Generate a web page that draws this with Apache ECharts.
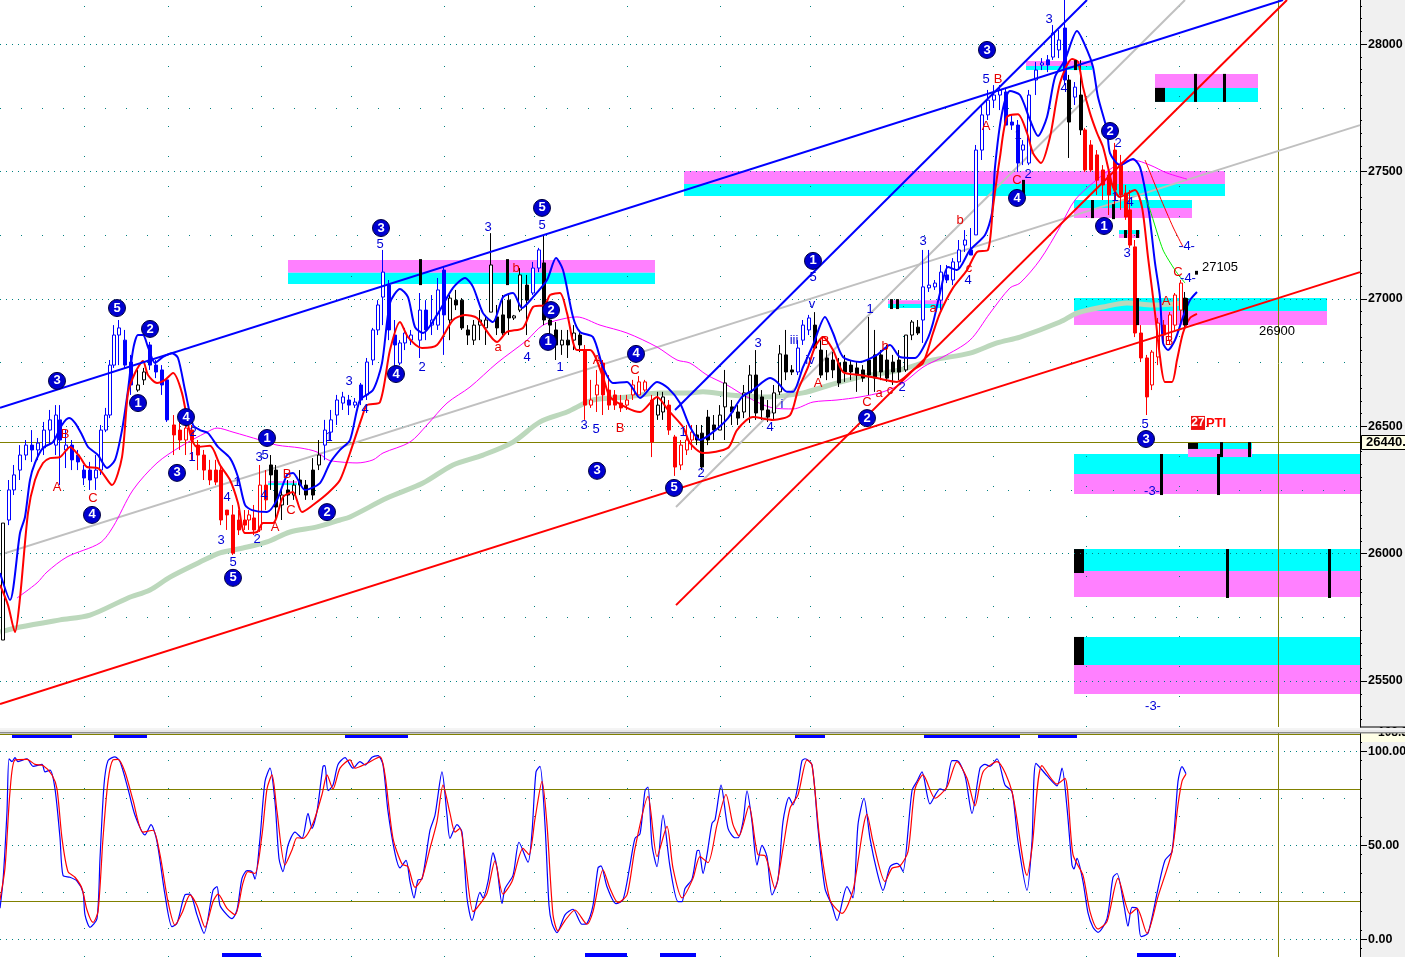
<!DOCTYPE html>
<html><head><meta charset="utf-8">
<style>html,body{margin:0;padding:0;background:#fff;overflow:hidden}#c{width:1405px;height:957px}</style>
<script src="https://cdn.jsdelivr.net/npm/echarts@6/dist/echarts.min.js"></script></head>
<body><div id="c"></div>
<script>
// ---------- price tick labels ----------
const priceTicks=[25500,26000,26500,27000,27500,28000];
const priceMinorRows=[25750,26250,26750,27250,27750];
const oscTicks=[0,50,100];
const oscMinorRows=[25,75];
const oscBands=[20,80];
const lastPrice=26437;
const timeGrid=[84,168,261,351,444,534,627,720,810,903,993,1086,1179];
const cursorTime=1278.5;

// ---------- candles: [time, open, close, low, high] ----------
const barsBlack=[[3,25661,26120,25661,26120],[138,26642,26662,26635,26721],[144,26682,26713,26662,26729],
[271,26348,26309,26250,26387],[276,26328,26183,26132,26348],[282,26191,26230,26132,26250],[288,26250,26230,26191,26289],[294,26230,26269,26211,26289],[300,26289,26269,26230,26328],[306,26269,26230,26211,26289],[313,26328,26230,26211,26375],[319,26348,26387,26328,26446],
[450,26917,27003,26838,27015],[456,26995,26976,26956,27035],[462,26995,26886,26878,27003],[468,26878,26858,26819,26897],[474,26838,26897,26819,26917],[480,26897,26917,26838,26956],[486,26886,26917,26819,26937],[491,26948,27133,26948,27258],[497,26929,26886,26858,26976],[503,26937,26866,26858,27015],[509,26995,26925,26858,27015],[514,26925,26933,26917,26937],[520,26956,27094,26948,27121],[527,27054,26995,26858,27094],
[544,27141,26917,26897,27251],[550,26917,26897,26838,26976],[556,26878,26819,26760,26909],[562,26819,26838,26780,26878],[568,26838,26819,26768,26878],[574,26838,26866,26799,26897],[580,26858,26819,26791,26878],
[658,26544,26583,26525,26635],[663,26556,26615,26525,26635],
[697,26466,26446,26426,26505],[702,26473,26340,26328,26505],[708,26536,26446,26426,26564],[714,26505,26485,26446,26544],[720,26485,26544,26485,26583],[725,26576,26670,26446,26721],[732,26576,26556,26505,26603],[738,26556,26532,26505,26583],[744,26556,26631,26532,26662],[750,26631,26701,26513,26740],[756,26701,26552,26525,26799],[762,26615,26564,26525,26642],[768,26564,26536,26517,26603],[774,26552,26631,26525,26662],[780,26635,26784,26623,26819],[786,26780,26713,26681,26878],[792,26721,26713,26701,26740],
[815,26897,26807,26799,26948],[821,26799,26701,26689,26838],[827,26768,26713,26681,26799],[833,26760,26721,26689,26791],[839,26748,26670,26654,26768],[845,26752,26713,26674,26780],[851,26740,26713,26681,26760],[857,26729,26701,26635,26752],[863,26721,26689,26674,26740],[869,26760,26701,26623,26929],[875,26780,26689,26635,26878],[881,26780,26713,26681,26799],[887,26760,26689,26674,26819],[893,26752,26713,26662,26780],[899,26760,26713,26681,26799],[906,26721,26858,26713,26858],[912,26858,26909,26838,26917],[918,26889,26866,26858,26917],
[1069,27859,27694,27553,27879],[1081,27800,27663,27643,27937],[1185,27003,26897,26886,27027]];
const barsBlue=[[9,26132,26250,26112,26289],[14,26250,26309,26230,26348],[20,26328,26387,26289,26426],[26,26387,26426,26367,26446],[32,26426,26407,26360,26485],[38,26407,26434,26367,26454],[44,26415,26485,26387,26517],[50,26485,26525,26426,26564],[56,26426,26544,26387,26583],[60,26525,26446,26269,26583],[66,26407,26426,26336,26485],[72,26426,26368,26328,26446],[78,26387,26360,26328,26407],[84,26328,26297,26269,26348],[90,26328,26289,26250,26360],[96,26297,26328,26250,26387],[101,26328,26485,26309,26505],[106,26485,26544,26477,26572],[110,26544,26740,26532,26760],[114,26740,26858,26729,26897],[119,26858,26886,26740,26917],[125,26838,26740,26729,26878],[131,26752,26662,26623,26780],
[150,26819,26740,26721,26831],[156,26740,26713,26689,26760],[162,26721,26662,26623,26740],[167,26682,26525,26517,26689],
[325,26426,26485,26367,26525],[331,26477,26525,26446,26564],[337,26544,26603,26505,26623],[343,26591,26615,26564,26635],[349,26603,26583,26544,26623],[355,26583,26595,26572,26611],[361,26662,26603,26583,26670],[367,26623,26752,26603,26768],[373,26760,26878,26740,26886],[378,26878,26976,26858,26995],[383,27007,27105,26897,27192],[389,27054,26878,26838,27074],[395,26858,26819,26721,26917],[400,26748,26827,26740,26838],[405,26827,26866,26799,26886],[411,26838,26858,26819,26878],[420,26838,26956,26768,27023],[426,26956,26878,26838,26995],[432,26897,26917,26858,27015],[438,26897,27035,26878,27082],[444,27113,26937,26780,27129],
[533,27023,27121,27015,27145],[539,27121,27192,27105,27200],
[798,26713,26807,26701,26838],[803,26838,26897,26819,26917],[809,26878,26925,26858,26937],
[923,26917,27047,26827,27192],[929,27043,27054,27027,27192],[935,27047,27062,27035,27074],[941,26995,27105,26956,27133],[947,27094,27074,27062,27133],[953,27074,27145,27054,27160],[959,27145,27192,27121,27231],[965,27211,27231,27184,27270],[971,27192,27172,27172,27278],[976,27251,27584,27251,27604],[982,27584,27722,27545,27761],[988,27722,27780,27702,27820],[994,27780,27800,27749,27839],[1000,27800,27820,27741,27839],[1006,27812,27682,27682,27828],[1012,27694,27682,27663,27722],[1018,27682,27533,27498,27702],[1023,27584,27604,27525,27623],[1029,27533,27800,27525,27820],[1036,27859,27898,27800,27930],[1042,27918,27926,27898,27945],[1048,27938,27918,27890,27957],[1053,27949,28043,27938,28075],[1059,27977,28016,27945,28055],[1065,28063,27859,27839,28173],[1075,27792,27831,27761,27851]];
const barsRed=[[174,26505,26466,26387,26544],[180,26485,26446,26407,26525],[186,26446,26493,26387,26525],[192,26485,26446,26368,26505],[198,26426,26387,26328,26446],[204,26387,26328,26289,26407],[210,26328,26289,26269,26368],[216,26328,26281,26269,26368],[221,26328,26132,26112,26348],[227,26171,26152,26093,26171],[233,26152,26002,25995,26191],[239,26132,26093,26073,26171],[245,26132,26112,26093,26171],[249,26132,26152,26093,26171],[254,26140,26093,26073,26191],[260,26093,26269,26085,26348],[266,26269,26211,26171,26328],
[585,26799,26583,26525,26819],[591,26583,26603,26572,26682],[597,26623,26662,26556,26721],[603,26748,26623,26544,26760],[609,26642,26583,26564,26701],[615,26623,26583,26564,26642],[621,26591,26572,26556,26623],[627,26583,26603,26564,26623],[633,26623,26662,26603,26682],[639,26623,26674,26623,26697],[645,26642,26674,26635,26682],[652,26603,26438,26379,26623],
[669,26583,26485,26466,26603],[675,26458,26340,26305,26466],[681,26348,26426,26328,26446],[687,26407,26446,26387,26505],[692,26446,26477,26407,26505],
[1085,27663,27506,27498,27671],[1091,27604,27506,27498,27623],[1097,27565,27466,27408,27584],[1103,27506,27447,27388,27525],[1109,27486,27408,27329,27506],[1115,27584,27427,27368,27612],[1121,27525,27408,27349,27565],[1126,27415,27321,27310,27447],[1130,27349,27211,27200,27427],[1135,27204,26866,26850,27231],[1141,26866,26768,26752,26897],[1147,26768,26615,26544,26780],[1152,26662,26791,26642,26799],[1158,26772,26905,26740,26925],[1164,26897,26858,26819,26917],[1170,26838,26937,26819,26948],[1175,26897,27015,26878,27023],[1181,26956,27062,26897,27074]];

// ---------- moving bands: [time, price] ----------
const bandUpper=[[0,25924],[10,25818],[20,26081],[25,26144],[30,26289],[35,26356],[43,26415],[53,26438],[62,26505],[69,26532],[75,26513],[82,26466],[88,26419],[98,26387],[107,26336],[115,26368],[122,26485],[128,26642],[133,26799],[138,26858],[143,26858],[148,26811],[155,26748],[163,26772],[172,26787],[178,26768],[185,26642],[193,26505],[200,26485],[208,26473],[218,26419],[230,26375],[238,26301],[245,26191],[252,26171],[267,26163],[277,26211],[287,26309],[293,26317],[305,26250],[320,26277],[330,26356],[340,26407],[350,26446],[360,26603],[373,26642],[382,26748],[390,26984],[400,27039],[408,27007],[415,26889],[423,26866],[437,26937],[453,27043],[465,27082],[473,27047],[483,26944],[493,26909],[503,27007],[513,27023],[522,26964],[533,27007],[547,27074],[556,27160],[563,27113],[573,26929],[580,26870],[593,26850],[603,26732],[613,26670],[627,26674],[640,26611],[657,26674],[668,26650],[680,26591],[690,26497],[700,26446],[713,26477],[728,26532],[742,26615],[753,26642],[770,26689],[777,26674],[787,26635],[793,26635],[803,26732],[813,26819],[825,26929],[833,26866],[843,26772],[860,26752],[877,26780],[890,26819],[900,26772],[915,26768],[927,26838],[933,26905],[940,27023],[948,27125],[957,27113],[970,27192],[985,27251],[992,27337],[995,27517],[1002,27729],[1010,27816],[1020,27800],[1030,27702],[1038,27639],[1047,27714],[1055,27871],[1065,27938],[1077,28051],[1087,27977],[1093,27910],[1098,27792],[1107,27663],[1110,27572],[1120,27525],[1133,27549],[1140,27517],[1147,27388],[1150,27310],[1155,27141],[1160,27007],[1163,26827],[1168,26799],[1175,26838],[1183,26929],[1190,26995],[1197,27027]];
const bandLower=[[0,25877],[8,25798],[15,25692],[20,25826],[28,26160],[35,26289],[43,26356],[50,26375],[60,26379],[70,26419],[80,26379],[87,26340],[98,26336],[112,26269],[122,26379],[128,26630],[135,26709],[143,26756],[148,26701],[157,26670],[165,26682],[173,26709],[182,26630],[190,26473],[197,26419],[210,26423],[220,26348],[230,26289],[238,26199],[245,26081],[257,26085],[263,26120],[273,26120],[283,26222],[293,26242],[302,26163],[313,26191],[328,26238],[340,26289],[350,26395],[362,26536],[367,26583],[380,26595],[390,26799],[400,26909],[408,26850],[422,26807],[437,26819],[453,26917],[465,26937],[477,26925],[497,26831],[507,26870],[523,26886],[533,26968],[545,26976],[550,27015],[560,27023],[567,26944],[577,26799],[590,26799],[603,26693],[610,26615],[627,26572],[640,26556],[657,26615],[668,26564],[683,26497],[690,26434],[703,26395],[728,26415],[737,26485],[753,26536],[773,26525],[790,26544],[798,26642],[808,26732],[815,26811],[823,26850],[833,26799],[843,26713],[860,26701],[877,26689],[897,26674],[913,26721],[923,26748],[933,26866],[940,26944],[953,27043],[967,27113],[977,27184],[988,27192],[993,27360],[1000,27557],[1007,27714],[1018,27725],[1027,27651],[1033,27572],[1041,27533],[1050,27635],[1060,27847],[1072,27941],[1078,27930],[1083,27831],[1090,27729],[1097,27651],[1103,27596],[1108,27517],[1113,27439],[1120,27400],[1135,27427],[1142,27360],[1148,27164],[1155,26944],[1160,26772],[1165,26674],[1172,26674],[1177,26760],[1183,26866],[1190,26925],[1197,26941]];
const maMagenta=[[17,25826],[37,25885],[47,25928],[67,25987],[100,26042],[113,26105],[133,26250],[157,26356],[180,26419],[207,26477],[217,26493],[233,26477],[260,26446],[277,26426],[300,26415],[317,26399],[328,26368],[340,26360],[357,26356],[373,26368],[383,26395],[410,26438],[427,26505],[447,26591],[470,26654],[497,26748],[527,26838],[543,26897],[567,26925],[577,26929],[600,26897],[627,26866],[657,26811],[677,26760],[690,26748],[707,26701],[727,26662],[747,26615],[773,26572],[793,26568],[813,26595],[837,26603],[860,26615],[883,26635],[903,26670],[923,26732],[943,26772],[970,26838],[990,26944],[1010,27043],[1020,27062],[1040,27153],[1060,27282],[1075,27388],[1100,27478],[1120,27533],[1133,27545],[1150,27525],[1167,27494],[1187,27470]];
const maGreen=[[0,25692],[20,25712],[60,25740],[90,25759],[128,25826],[150,25857],[170,25908],[200,25967],[220,26003],[243,26022],[267,26046],[290,26085],[317,26105],[340,26132],[350,26144],[387,26218],[423,26277],[453,26348],[483,26387],[513,26438],[540,26517],[567,26556],[593,26603],[627,26615],[660,26631],[690,26631],[703,26635],[730,26623],[767,26615],[803,26631],[830,26662],[860,26693],[900,26721],[933,26760],[970,26787],[997,26827],[1020,26850],[1060,26909],[1077,26944],[1103,26968],[1127,26984],[1153,26976],[1183,26984]];
const projRed=[[1145,27545],[1160,27400],[1173,27282],[1183,27204]];
const projGreen=[[1145,27400],[1150,27349],[1163,27192],[1175,27113],[1185,27062]];

// ---------- trend lines: [t1,p1,t2,p2] ----------
const trendBlue=[[0,26572,1283,28173],[675,26564,1087,28173]];
const trendRed=[[0,25410,1360,27105],[676,25798,1287,28173]];
const trendGray=[[0,25995,1360,27682],[676,26183,1185,28173]];

// ---------- target zones: [t1,t2,top,split,bottom] ----------
const zonesMagentaOnTop=[[288,655,27153,27102,27058],[684,1225,27502,27451,27404],[1155,1258,27883,27828,27773],[888,943,26995,26980,26964],[1026,1092,27934,27914,27898],[268,297,26285,26277,26269]];
const zonesCyanOnTop=[[1074,1192,27388,27357,27317],[1074,1327,27003,26952,26897],[1074,1360,26391,26313,26234],[1074,1360,26018,25932,25830],[1074,1360,25673,25563,25449],[1188,1252,26438,26411,26379],[1119,1140,27270,27254,27239]];
const zoneBlocks=[[1155,1165,27828,27773],[1074,1084,26018,25924],[1074,1084,25673,25563],[1188,1198,26438,26411]];
const zoneMarks=[[420,27156,27054],[507,27156,27054],[1092,27388,27317],[1113,27372,27313],[1195,27883,27773],[1224,27883,27773],[1137,27003,26897],[1186,27003,26897],[1161,26391,26230],[1218,26391,26230],[1227,26018,25826],[1329,26018,25826],[1221,26438,26379],[1249,26438,26379],[891,26999,26960],[897,26999,26960],[1075,27937,27898],[1125,27270,27239],[1137,27270,27239],[1023,27467,27388],[1196,27095,27110]];

// ---------- wave labels: [time, price, text] ----------
const waveCircles=[[57,26678,'3'],[117,26964,'5'],[150,26882,'2'],[138,26591,'1'],[186,26536,'4'],[177,26317,'3'],[92,26152,'4'],[267,26454,'1'],[233,25905,'5'],[327,26163,'2'],[381,27278,'3'],[396,26705,'4'],[542,27357,'5'],[551,26956,'2'],[548,26831,'1'],[636,26784,'4'],[597,26325,'3'],[674,26258,'5'],[813,27149,'1'],[867,26532,'2'],[987,27977,'3'],[1110,27659,'2'],[1017,27396,'4'],[1104,27286,'1'],[1146,26450,'3'],[-2,25484,'']];
const waveBlue=[[380,27215,'5'],[542,27290,'5'],[488,27282,'3'],[349,26674,'3'],[365,26565,'4'],[422,26732,'2'],[527,26772,'4'],[560,26732,'1'],[584,26505,'3'],[596,26489,'5'],[701,26313,'2'],[770,26497,'4'],[758,26827,'3'],[812,26980,'v'],[813,27086,'5'],[794,26838,'iii'],[810,26760,'iv'],[782,26587,'i'],[870,26960,'1'],[902,26654,'2'],[923,27227,'3'],[968,27074,'4'],[986,27863,'5'],[1049,28098,'3'],[1064,27824,'4'],[1018,27643,'1'],[1028,27490,'2'],[1118,27612,'2'],[1145,26509,'5'],[1127,27180,'3'],[1130,27380,'4'],[1115,27400,'1'],[1152,26246,'-3-'],[1153,25402,'-3-'],[1187,27207,'-4-'],[1188,27082,'-4-'],[227,26219,'4'],[221,26050,'3'],[233,25967,'5'],[257,26054,'2'],[264,26230,'4'],[259,26379,'3'],[265,26387,'5'],[192,26379,'1'],[193,26477,'2'],[237,26281,'1'],[329,26458,'1'],[683,26477,'1']];
const waveRed=[[57,26258,'A'],[65,26466,'B'],[93,26215,'C'],[275,26101,'A'],[287,26309,'B'],[291,26168,'C'],[498,26811,'a'],[516,27121,'b'],[527,26827,'c'],[620,26493,'B'],[635,26721,'C'],[597,26760,'A'],[818,26670,'A'],[825,26831,'B'],[867,26595,'C'],[879,26627,'a'],[890,26642,'c'],[885,26815,'b'],[933,26964,'a'],[960,27306,'b'],[969,27121,'c'],[986,27678,'A'],[998,27863,'B'],[1017,27463,'C'],[1166,26988,'A'],[1169,26831,'B'],[1178,27102,'C']];
const noteBlack=[[1220,27125,'27105'],[1277,26874,'26900']];
const notePti=[[1216,26513,'PTI']];
const noteBox=[[1198,26513,'27']];

// ---------- oscillator: [time, value] ----------
const oscK=[[0,16.5],[3,31],[7,68],[9,96],[12,94.5],[15,96.6],[18,94.5],[27,96],[33,92],[42,93],[45,89],[50,90],[55,80],[60,54],[63,34],[70,33],[77,31],[83,25],[85,13],[90,6.4],[97,11],[100,43],[104,82],[108,95],[115,97],[120,94.5],[128,80],[135,66],[145,55.5],[151,61],[157,52],[165,23.6],[172,6.7],[177,8.5],[185,23.6],[190,24],[197,13],[204,3.2],[213,26],[217,28],[220,18],[227,13],[232,11],[237,15.6],[242,32.4],[247,36.5],[252,36],[255,32],[260,53.7],[265,84],[270,91],[275,73],[279,43],[283,36],[288,50],[295,57],[302,53.7],[308,67],[312,59],[317,68],[323,92],[325,92.4],[328,79],[333,82],[338,93],[345,96.6],[353,91],[360,94.5],[365,92.7],[372,96.8],[378,97.7],[383,92.7],[388,68],[395,45.7],[400,38],[406,42],[410,30.7],[414,22],[418,31.6],[422,32],[430,58],[435,66],[442,89],[447,66],[450,53.7],[457,61],[462,57],[467,22],[472,10],[480,25],[483,22],[488,30.7],[493,46],[497,38],[502,19],[505,27],[513,34],[519,51.6],[528,41],[532,57],[536,89],[540,92],[545,61],[549,18],[552,8.5],[557,3.5],[565,13],[573,16],[582,8],[587,8.5],[593,18],[598,38],[601,39],[607,28],[616,19],[623,21],[630,39.5],[635,53.7],[640,56],[645,79],[648,81],[652,50],[657,38.6],[663,66],[670,38.6],[678,20],[682,20],[685,27],[692,32],[697,47],[699,47.3],[703,35],[707,45],[712,61.7],[715,63.5],[721,82],[728,59],[735,54],[738,54],[743,62.6],[747,79],[752,62.6],[757,39.5],[762,50],[767,44],[772,23.6],[778,32],[783,62.6],[789,75.5],[793,71.5],[798,82],[802,95],[805,96],[812,92.7],[818,59],[825,27],[832,18],[837,10],[847,28],[853,22],[858,61],[864,75],[870,53.7],[877,36],[883,26],[890,38.6],[897,40.4],[900,39],[903,36],[912,79],[917,84],[922,89],[930,72],[940,80],[945,79],[952,95],[957,95],[965,87],[972,67],[980,91],[985,93],[990,92],[997,96],[1005,82],[1012,78.5],[1018,52],[1027,26],[1032,52],[1036,93.6],[1047,87],[1057,81.6],[1062,91],[1067,70],[1072,39.5],[1074,37.4],[1077,43],[1083,30.7],[1088,14],[1093,6.4],[1098,3.7],[1107,11],[1113,33],[1117,35],[1124,18],[1128,7],[1132,17],[1137,16.5],[1141,1.4],[1148,3.2],[1158,27],[1165,42],[1172,46.6],[1178,84],[1182,91.8],[1186,88]];
const oscD=[[0,21],[5,38],[10,78.5],[15,95.4],[27,95.7],[35,93],[43,92.4],[52,87.4],[57,80],[62,53.7],[68,36],[75,33],[82,27],[87,15.6],[93,9],[98,14.7],[103,53.7],[108,84],[113,95.4],[118,95.7],[125,89],[133,74],[143,57],[153,58],[160,45],[168,20],[175,7.6],[182,14],[190,23.6],[197,18],[205,6.4],[213,20],[218,24],[227,16.5],[235,13],[243,30],[248,36],[255,35],[262,55.5],[267,80],[272,87.4],[277,68],[285,39.5],[292,47.5],[297,54],[303,53.7],[313,61.7],[322,77],[327,87.4],[333,80],[340,91],[350,95.4],[355,91],[367,93.6],[380,97],[385,87.4],[393,53.7],[402,40],[408,38.6],[415,27.6],[422,32.4],[430,48.4],[437,62.6],[443,82],[450,67],[455,57],[460,59],[465,43],[473,14.7],[478,17.4],[487,24.5],[495,41.7],[503,24],[512,30.7],[523,48.4],[529,45],[535,64],[542,84],[547,61],[553,13],[558,4.4],[565,10],[575,15.6],[587,8],[593,14.7],[603,37],[610,27],[618,19.5],[627,23.6],[635,48.4],[648,76],[657,44],[667,60],[673,37.8],[682,22],[693,32.4],[700,44],[708,40.8],[717,60.8],[726,77],[733,61],[739,55],[749,71],[758,45],[765,44.5],[775,27],[783,48.4],[790,69.7],[798,76.8],[807,95.4],[812,92.7],[820,52],[830,21],[842,13.8],[853,26],[867,66.5],[873,52],[885,30.7],[892,37.8],[900,39],[908,46.6],[915,80],[923,87.4],[935,75],[947,81],[957,94.5],[967,85.6],[975,71],[983,89],[997,94.5],[1012,78.5],[1027,34],[1032,48.4],[1042,92.4],[1057,82.5],[1065,85.6],[1073,45],[1083,34],[1090,14.7],[1098,5.5],[1107,9.4],[1118,32.4],[1130,13.5],[1137,16.5],[1147,3.2],[1158,22.7],[1172,46.6],[1178,71.5],[1182,84],[1186,87.8]];
const signalTop=[[12,72],[114,147],[345,408],[795,825],[924,1020],[1038,1077]];
const signalBottom=[[222,261],[585,627],[660,696],[1137,1176]];

// ---------- helpers that build library options from the arrays ----------
const TEAL='#008080',OLIVE='#808000',FONT='"Liberation Sans",Arial,sans-serif';
const hRule=(v,t1,t2,color,dash)=>[{xAxis:t1,yAxis:v,lineStyle:{color,type:dash,width:1}},{xAxis:t2,yAxis:v}];
const vRule=(t,v1,v2,color,dash)=>[{xAxis:t,yAxis:v1,lineStyle:{color,type:dash,width:1}},{xAxis:t,yAxis:v2}];
const priceMin=25319.6,priceMax=28173,oscMin=-9.4,oscMax=109.7;
const candles=(name,rows,col)=>({name,type:'candlestick',xAxisIndex:0,yAxisIndex:0,z:3,barWidth:4,
  encode:{x:0,y:[1,2,3,4]},data:rows,
  itemStyle:{color:'#ffffff',color0:col,borderColor:col,borderColor0:col,borderWidth:1}});
const pLine=(name,data,col,w,extra)=>Object.assign({name,type:'line',xAxisIndex:0,yAxisIndex:0,data,symbol:'none',z:4,
  lineStyle:{color:col,width:w},silent:true},extra||{});
const trend=(name,rows,col)=>rows.map((r,i)=>pLine(name+i,[[r[0],r[1]],[r[2],r[3]]],col,2,{z:col==='#c0c0c0'?2:5}));
const words=(name,rows,col,size,weight)=>({name,type:'scatter',xAxisIndex:0,yAxisIndex:0,z:7,data:rows,symbolSize:1,
  itemStyle:{color:'rgba(0,0,0,0)',opacity:1},silent:true,
  label:{show:true,position:'inside',opacity:1,formatter:p=>p.value[2],color:col,fontFamily:FONT,fontSize:size,fontWeight:weight||'normal'}});
const zoneAreas=[];
zonesMagentaOnTop.forEach(z=>{zoneAreas.push([{xAxis:z[0],yAxis:z[2],itemStyle:{color:'#ff80ff',opacity:1}},{xAxis:z[1],yAxis:z[3]}]);
  zoneAreas.push([{xAxis:z[0],yAxis:z[3],itemStyle:{color:'#00ffff',opacity:1}},{xAxis:z[1],yAxis:z[4]}]);});
zonesCyanOnTop.forEach(z=>{zoneAreas.push([{xAxis:z[0],yAxis:z[2],itemStyle:{color:'#00ffff',opacity:1}},{xAxis:z[1],yAxis:z[3]}]);
  zoneAreas.push([{xAxis:z[0],yAxis:z[3],itemStyle:{color:'#ff80ff',opacity:1}},{xAxis:z[1],yAxis:z[4]}]);});
zoneBlocks.forEach(z=>zoneAreas.push([{xAxis:z[0],yAxis:z[2],itemStyle:{color:'#000',opacity:1}},{xAxis:z[1],yAxis:z[3]}]));

const priceRules=[];
priceTicks.forEach(v=>priceRules.push(hRule(v,0,1360,TEAL,[1,5])));
priceMinorRows.forEach(v=>priceRules.push(hRule(v,0,1360,TEAL,[1,20])));
timeGrid.forEach(t=>priceRules.push(vRule(t,priceMin,priceMax,TEAL,[1,29])));
priceRules.push(hRule(lastPrice,0,1360,OLIVE,'solid'));
priceRules.push(vRule(cursorTime,priceMin,priceMax,OLIVE,'solid'));
const oscRules=[];
oscTicks.forEach(v=>oscRules.push(hRule(v,0,1360,TEAL,[1,5])));
oscMinorRows.forEach(v=>oscRules.push(hRule(v,0,1360,TEAL,[1,20])));
timeGrid.forEach(t=>oscRules.push(vRule(t,oscMin,oscMax,TEAL,[1,27])));
oscBands.forEach(v=>oscRules.push(hRule(v,0,1360,OLIVE,'solid')));
oscRules.push(hRule(109,0,1360,OLIVE,'solid'));
oscRules.push(vRule(cursorTime,oscMin,oscMax,OLIVE,'solid'));
const sigTop=signalTop.map(s=>[{xAxis:s[0],yAxis:108,lineStyle:{color:'#0000ff',width:3,type:'solid'}},{xAxis:s[1],yAxis:108}]);
const sigBot=signalBottom.map(s=>[{xAxis:s[0],yAxis:-8.3,lineStyle:{color:'#0000ff',width:4,type:'solid'}},{xAxis:s[1],yAxis:-8.3}]);

const priceMinorTicks=[];for(let v=25350;v<=28150;v+=50)priceMinorTicks.push(v);
const oscMinorTicks=[];for(let v=-5;v<=105;v+=10)oscMinorTicks.push(v);
const rightAxis=(gridIndex,min,max,ticks,fmt,len,show)=>({type:'value',gridIndex,position:'right',min,max,scale:true,
  axisLine:{show:show,onZero:false,lineStyle:{color:'#000',width:1}},splitLine:{show:false},
  axisTick:{show:true,length:len,inside:false,lineStyle:{color:'#000',width:1},customValues:ticks},
  axisLabel:{show:show,margin:8,color:'#000',fontFamily:FONT,fontSize:12.5,fontWeight:'bold',formatter:fmt,customValues:show?ticks:undefined,hideOverlap:false,showMinLabel:true,showMaxLabel:true}});

const option={animation:false,backgroundColor:'#ffffff',
 grid:[{left:0,width:1360,top:0,height:727,containLabel:false,outerBoundsMode:'none'},{left:0,width:1360,top:733,height:224,containLabel:false,outerBoundsMode:'none'}],
 xAxis:[0,1].map(i=>({type:'value',gridIndex:i,min:0,max:1360,show:false,splitLine:{show:false}})),
 yAxis:[
  rightAxis(0,priceMin,priceMax,priceTicks,v=>String(v),7,true),
  rightAxis(0,priceMin,priceMax,priceMinorTicks,()=>'',2,false),
  rightAxis(1,oscMin,oscMax,oscTicks,v=>v.toFixed(2),7,true),
  rightAxis(1,oscMin,oscMax,oscMinorTicks,()=>'',2,false)
 ],
 graphic:[
  {type:'rect',z:-10,silent:true,shape:{x:1360,y:0,width:45,height:957},style:{fill:'#f0f0f0'}},
  {type:'rect',z:50,silent:true,shape:{x:1361.5,y:435.5,width:44,height:14},style:{fill:'#ffffe6',stroke:'#000',lineWidth:1}},
  {type:'text',z:51,silent:true,x:1366,y:436,style:{text:'26440.',fill:'#000',font:'bold 13px '+FONT}},
  {type:'rect',z:50,silent:true,shape:{x:1361,y:731,width:44,height:11},style:{fill:'#ffffe6'}},
  {type:'text',z:51,silent:true,x:1378,y:727,style:{text:'108.3',fill:'#000',font:'bold 12px '+FONT}},
  {type:'rect',z:52,silent:true,shape:{x:0,y:728,width:1405,height:2},style:{fill:'#f4f4f4'}},
  {type:'rect',z:52,silent:true,shape:{x:0,y:730,width:1405,height:2},style:{fill:'#e8e8e8'}},
  {type:'rect',z:52,silent:true,shape:{x:0,y:732,width:1405,height:1.5},style:{fill:'#8c8c8c'}},
  {type:'rect',z:52,silent:true,shape:{x:1360,y:726.5,width:45,height:1},style:{fill:'#000'}}
 ],
 series:[
  {name:'rules',type:'line',xAxisIndex:0,yAxisIndex:0,data:[],symbol:'none',z:1,silent:true,
   markArea:{silent:true,z:1,data:zoneAreas},
   markLine:{silent:true,symbol:'none',z:1,label:{show:false},animation:false,data:priceRules}},
  {name:'marks',type:'line',xAxisIndex:0,yAxisIndex:0,data:[],symbol:'none',z:6,silent:true,
   markLine:{silent:true,symbol:'none',z:6,label:{show:false},animation:false,
    data:zoneMarks.map(m=>[{xAxis:m[0],yAxis:m[1],lineStyle:{color:'#000',width:3,type:'solid'}},{xAxis:m[0],yAxis:m[2]}])}},
  pLine('ma green',maGreen,'#bcd8bc',5,{z:2,smooth:0.3}),
  ...trend('gray',trendGray,'#c0c0c0'),
  pLine('ma magenta',maMagenta,'#ff00ff',1,{z:2,smooth:0.3}),
  candles('black bars',barsBlack,'#000000'),
  candles('blue bars',barsBlue,'#0000ff'),
  candles('red bars',barsRed,'#ff0000'),
  pLine('upper',bandUpper,'#0000ff',2,{smooth:0.25}),
  pLine('lower',bandLower,'#ff0000',2,{smooth:0.25}),
  ...trend('blue',trendBlue,'#0000ff'),
  ...trend('red',trendRed,'#ff0000'),
  pLine('proj red',projRed,'#ff0000',1,{smooth:0.2}),
  pLine('proj green',projGreen,'#00ee00',1,{smooth:0.2}),
  {name:'circles',type:'scatter',xAxisIndex:0,yAxisIndex:0,z:8,data:waveCircles,symbolSize:17,silent:true,
   itemStyle:{color:'#0000d0',borderColor:'#000040',borderWidth:1,opacity:1},
   label:{show:true,position:'inside',formatter:p=>p.value[2],color:'#fff',fontFamily:FONT,fontSize:13,fontWeight:'bold'}},
  words('blue text',waveBlue,'#0000d8',13),
  words('red text',waveRed,'#e80000',13),
  words('notes',noteBlack,'#000',13),
  words('pti',notePti,'#ff0000',13,'bold'),
  {name:'pti box',type:'scatter',xAxisIndex:0,yAxisIndex:0,z:8,data:noteBox,symbol:'rect',symbolSize:[14,14],silent:true,
   itemStyle:{color:'#ee1111',opacity:1},label:{show:true,position:'inside',formatter:p=>p.value[2],color:'#fff',fontFamily:FONT,fontSize:12,fontWeight:'bold'}},
  {name:'osc rules',type:'line',xAxisIndex:1,yAxisIndex:2,data:[],symbol:'none',z:1,silent:true,
   markLine:{silent:true,symbol:'none',z:1,label:{show:false},animation:false,data:oscRules.concat(sigTop,sigBot)}},
  {name:'%K',type:'line',xAxisIndex:1,yAxisIndex:2,data:oscK,symbol:'none',z:3,silent:true,smooth:0.25,lineStyle:{color:'#0000ff',width:1.2}},
  {name:'%D',type:'line',xAxisIndex:1,yAxisIndex:2,data:oscD,symbol:'none',z:4,silent:true,smooth:0.25,lineStyle:{color:'#ff0000',width:1.2}}
 ]};
const chart=echarts.init(document.getElementById('c'),null,{renderer:'canvas',width:1405,height:957});
chart.setOption(option);
</script></body></html>
